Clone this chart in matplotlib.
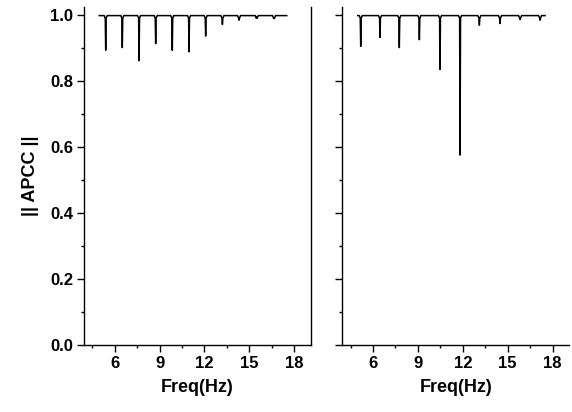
import numpy as np
import matplotlib
matplotlib.use("Agg")
import matplotlib.pyplot as plt
from matplotlib.ticker import MultipleLocator

plt.rcParams['font.family'] = ['Liberation Sans', 'DejaVu Sans']
plt.rcParams['font.weight'] = 'bold'

# left panel: dip frequencies (Hz) and minimum ||APCC||
left_start, left_end = 4.97, 17.5
left_dip_f = [5.40, 6.51, 7.63, 8.74, 9.85, 10.97, 12.08, 13.20, 14.31, 15.49, 16.65]
left_dip_v = [0.893, 0.901, 0.861, 0.913, 0.893, 0.888, 0.936, 0.971, 0.984, 0.994, 0.989]

# right panel
right_start, right_end = 4.98, 17.5
right_dip_f = [5.18, 6.47, 7.76, 9.10, 10.48, 11.82, 13.11, 14.49, 15.83, 17.17]
right_dip_v = [0.905, 0.932, 0.901, 0.925, 0.835, 0.575, 0.969, 0.974, 0.986, 0.984]

baseline = 0.998
shoulder = 0.990


def build_curve(start, end, dip_f, dip_v):
    xs = [start]
    ys = [baseline]
    for f, v in zip(dip_f, dip_v):
        xs += [f - 0.10, f - 0.03, f, f + 0.03, f + 0.10]
        ys += [baseline, shoulder, v, shoulder, baseline]
    xs.append(end)
    ys.append(baseline)
    return xs, ys


fig = plt.figure(figsize=(5.72, 4.12), dpi=100)
ax1 = fig.add_axes([84 / 572, 1 - 344.7 / 412, 226.7 / 572, 338 / 412])
ax2 = fig.add_axes([342.3 / 572, 1 - 344.7 / 412, 226.7 / 572, 338 / 412])

panels = [(ax1, left_start, left_end, left_dip_f, left_dip_v),
          (ax2, right_start, right_end, right_dip_f, right_dip_v)]

for ax, s, e, df, dv in panels:
    x, y = build_curve(s, e, df, dv)
    ax.plot(x, y, color='black', lw=1.1)
    ax.set_xlim(3.95, 19.1)
    ax.set_ylim(0, 1.025)
    ax.xaxis.set_major_locator(MultipleLocator(3))
    ax.xaxis.set_minor_locator(MultipleLocator(1.5))
    ax.yaxis.set_major_locator(MultipleLocator(0.2))
    ax.yaxis.set_minor_locator(MultipleLocator(0.1))
    ax.tick_params(which='major', direction='out', length=5, width=1.0,
                   labelsize=12, pad=3)
    ax.tick_params(which='minor', direction='out', length=2.5, width=1.0)
    ax.spines['top'].set_visible(False)
    for sp in ax.spines.values():
        sp.set_linewidth(1.0)
    ax.set_xlabel('Freq(Hz)', fontsize=13, fontweight='bold', labelpad=6)
    for lab in ax.get_xticklabels() + ax.get_yticklabels():
        lab.set_fontweight('bold')

ax1.set_xticks([6, 9, 12, 15, 18])
ax2.set_xticks([6, 9, 12, 15, 18])
ax1.set_yticks([0.0, 0.2, 0.4, 0.6, 0.8, 1.0])
ax1.set_yticklabels(['0.0', '0.2', '0.4', '0.6', '0.8', '1.0'], fontweight='bold')
ax1.set_ylabel('|| APCC ||', fontsize=13, fontweight='bold', labelpad=8)
ax2.tick_params(axis='y', labelleft=False)
ax2.spines['right'].set_visible(False)

fig.savefig('out.png', dpi=100)
